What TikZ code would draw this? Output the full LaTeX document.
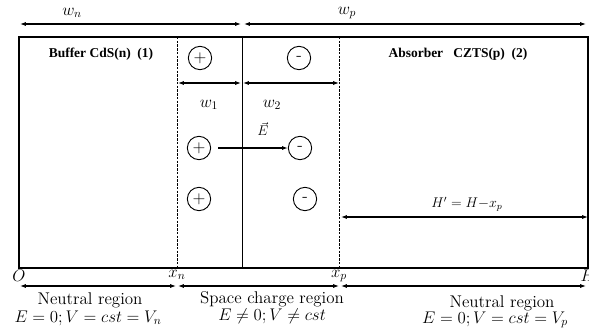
\documentclass[tikz,border=0pt]{standalone}
\usepackage{fontspec}
\newfontfamily\tnr{Liberation Serif}
\usetikzlibrary{arrows.meta}
\tikzset{
  dim/.style={{Latex[length=5pt,width=3.5pt]}-{Latex[length=5pt,width=3.5pt]},line width=0.9pt},
  field/.style={-{Latex[length=5pt,width=3.5pt]},line width=0.9pt},
  bound/.style={line width=0.8pt,dash pattern=on 2pt off 1.2pt},
  charge/.style={draw,circle,line width=0.8pt,minimum size=0.7cm,inner sep=0pt,font=\Large},
  layername/.style={font=\tnr\bfseries\fontsize{11.5}{13}\selectfont},
  bigtext/.style={font=\fontsize{14.5}{16}\selectfont},
  lab/.style={font=\Large},
}
\begin{document}
\begin{tikzpicture}[x=0.03cm,y=-0.03cm]
\useasboundingbox (0,0) rectangle (589,334);
% cell
\coordinate (O) at (19,268);
\coordinate (xn) at (177,268);
\coordinate (jb) at (242,268);
\coordinate (xp) at (339,268);
\coordinate (H) at (588,268);
\coordinate (xnT) at (177,37);
\coordinate (jt) at (242,37);
\coordinate (xpT) at (339,37);
\draw[line width=1.1pt] (19,37) rectangle (H);
\draw[bound] (xnT) -- (xn);
\draw[line width=0.8pt] (jt) -- (jb);
\draw[bound] (xpT) -- (xp);
\node[layername] (buf) at (101,54) {Buffer CdS(n)\ \ (1)};
\node[layername] (abs) at (458,54) {Absorber\ \ \ CZTS(p)\ \ (2)};
% widths on top
\coordinate (wnL) at (20,24);
\coordinate (wnR) at (241,24);
\coordinate (wpL) at (244,24);
\coordinate (wpR) at (586,24);
\draw[dim] (wnL) -- (wnR);
\draw[dim] (wpL) -- (wpR);
\node[lab] (wn) at (72,13) {$w_n$};
\node[lab] (wp) at (347,13) {$w_p$};
% charges
\node[charge] (p1) at (200,58) {$+$};
\node[charge] (n1) at (299,58) {-};
\node[charge] (p2) at (199,148) {$+$};
\node[charge] (n2) at (300,148) {-};
\node[charge] (p3) at (199,199) {$+$};
\node[charge] (n3) at (305,199) {-};
\coordinate (w1L) at (178,83);
\coordinate (w1R) at (241,83);
\coordinate (w2L) at (243,83);
\coordinate (w2R) at (339,83);
\draw[dim] (w1L) -- (w1R);
\draw[dim] (w2L) -- (w2R);
\node[lab] (w1) at (209,105) {$w_1$};
\node[lab] (w2) at (272,105) {$w_2$};
\draw[field,shorten <=6pt] (p2) -- (n2);
\node[font=\large] (E) at (263,129) {$\vec{E}$};
% remaining thickness
\coordinate (hL) at (341,217);
\coordinate (hR) at (588,217);
\draw[dim] (hL) -- (hR);
\node[font=\large] (hlab) at (467,204) {$H' = H{-}x_p$};
% axis
\node[lab,below=-2pt] (Olab) at (O) {$O$};
\node[lab,below=-2pt] (xnlab) at (xn) {$x_n$};
\node[lab,below=-2pt] (xplab) at (xp) {$x_p$};
\node[lab,below=-2pt] (Hlab) at (H) {$H$};
\coordinate (a0) at (20,286);
\coordinate (a1) at (176,286);
\coordinate (a2) at (178,286);
\coordinate (a3) at (339,286);
\coordinate (a4) at (341,286);
\coordinate (a5) at (586,286);
\draw[dim] (a0) -- (a1);
\draw[dim] (a2) -- (a3);
\draw[dim] (a4) -- (a5);
\node[bigtext] (nl) at (90,300) {Neutral region};
\node[bigtext] (nleq) at (88,318) {$E = 0; V = cst = V_n$};
\node[bigtext] (sc) at (272,299) {Space charge region};
\node[bigtext] (sceq) at (272,316) {$E \neq 0; V \neq cst$};
\node[bigtext] (nr) at (502,303) {Neutral region};
\node[bigtext] (nreq) at (495,320) {$E = 0; V = cst = V_p$};
\end{tikzpicture}
\end{document}
